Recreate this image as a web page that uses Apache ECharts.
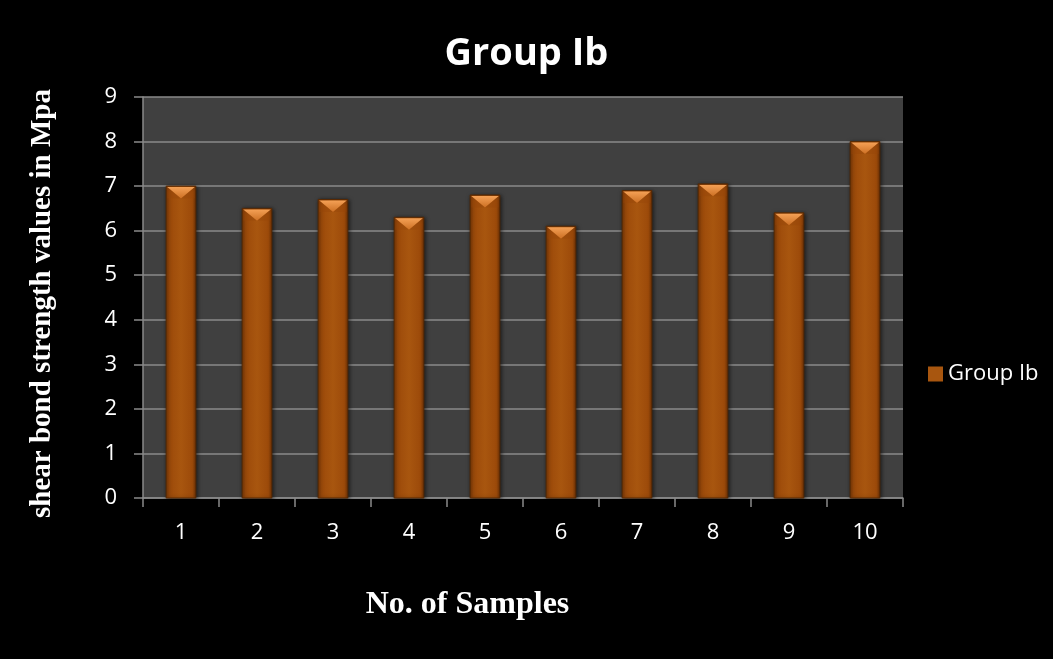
<!DOCTYPE html>
<html>
<head>
<meta charset="utf-8">
<script src="https://cdn.jsdelivr.net/npm/echarts@6/dist/echarts.min.js"></script>
<style>
  html, body { margin: 0; padding: 0; background: #000; }
  #chart { width: 1053px; height: 659px; }
</style>
</head>
<body>
<div id="chart"></div>
<script>
// Shear bond strength per sample, Group Ib
const samples = ['1', '2', '3', '4', '5', '6', '7', '8', '9', '10'];
const strength = [7.0, 6.5, 6.7, 6.3, 6.8, 6.1, 6.9, 7.05, 6.4, 8.0];
const yTicks = [0, 1, 2, 3, 4, 5, 6, 7, 8, 9];
const seriesName = 'Group Ib';

const chart = echarts.init(document.getElementById('chart'), null, { renderer: 'canvas' });

const bodyFill = new echarts.graphic.LinearGradient(0, 0, 1, 0, [
  { offset: 0, color: '#7a3805' },
  { offset: 0.12, color: '#9c4a0a' },
  { offset: 0.5, color: '#a8560f' },
  { offset: 0.88, color: '#9c4a0a' },
  { offset: 1, color: '#6e3204' }
]);
const capFill = new echarts.graphic.LinearGradient(0, 0, 0, 1, [
  { offset: 0, color: '#f4a055' },
  { offset: 1, color: '#cc7024' }
]);

// Bevelled column: body rectangle plus a lighter triangular facet on top
function renderBar(params, api) {
  const idx = api.value(0);
  const val = api.value(1);
  const top = api.coord([idx, val]);
  const base = api.coord([idx, 0]);
  const w = api.size([1, 0])[0] * 0.39;
  const x0 = top[0] - w / 2;
  const x1 = top[0] + w / 2;
  const capH = Math.min(w * 0.42, base[1] - top[1]);
  return {
    type: 'group',
    children: [
      { type: 'rect', shape: { x: x0, y: top[1], width: w, height: base[1] - top[1] },
        style: { fill: bodyFill, stroke: '#5a2a03', lineWidth: 1, shadowBlur: 4, shadowColor: 'rgba(0,0,0,0.6)', shadowOffsetX: 1, shadowOffsetY: 1 } },
      { type: 'polygon', shape: { points: [[x0 + 1, top[1] + 1], [x1 - 1, top[1] + 1], [top[0], top[1] + capH]] },
        style: { fill: capFill } },
      { type: 'polygon', shape: { points: [[x0 + 1, top[1] + 1], [top[0], top[1] + capH], [x0 + 1, top[1] + capH]] },
        style: { fill: 'rgba(150,70,10,0.35)' } },
      { type: 'polygon', shape: { points: [[x1 - 1, top[1] + 1], [top[0], top[1] + capH], [x1 - 1, top[1] + capH]] },
        style: { fill: 'rgba(150,70,10,0.35)' } }
    ]
  };
}

chart.setOption({
  backgroundColor: '#000',
  animation: false,
  title: {
    text: 'Group Ib',
    left: 'center',
    top: 30,
    textStyle: { color: '#fff', fontFamily: 'Open Sans', fontWeight: 'bold', fontSize: 38 }
  },
  legend: {
    data: [{ name: seriesName, icon: 'rect' }],
    orient: 'vertical',
    left: 923,
    top: 358,
    itemWidth: 15,
    itemHeight: 15,
    itemGap: 6,
    textStyle: { color: '#fff', fontFamily: 'Open Sans', fontSize: 22 }
  },
  grid: { left: 143, right: 150, top: 97, bottom: 161, show: true, backgroundColor: '#404040', borderWidth: 0 },
  xAxis: {
    type: 'category',
    data: samples,
    boundaryGap: true,
    name: 'No. of Samples',
    nameLocation: 'middle',
    nameGap: 91,
    nameTextStyle: { color: '#fff', fontFamily: 'Liberation Serif', fontWeight: 'bold', fontSize: 32, padding: [0, 111, 0, 0] },
    axisLine: { lineStyle: { color: '#8a8a8a', width: 1.5 } },
    axisTick: { show: true, length: 9, lineStyle: { color: '#8a8a8a', width: 1.5 } },
    axisLabel: { color: '#fff', fontFamily: 'Open Sans', fontSize: 22, margin: 24 }
  },
  yAxis: {
    type: 'value',
    min: yTicks[0],
    max: yTicks[yTicks.length - 1],
    interval: 1,
    name: 'shear bond strength values in Mpa',
    nameLocation: 'middle',
    nameGap: 86,
    nameTextStyle: { color: '#fff', fontFamily: 'Liberation Serif', fontWeight: 'bold', fontSize: 29, padding: [0, 12, 0, 0] },
    axisLine: { show: true, lineStyle: { color: '#8a8a8a', width: 1.5 } },
    axisTick: { show: true, length: 9, lineStyle: { color: '#8a8a8a', width: 1.5 } },
    splitLine: { lineStyle: { color: '#8a8a8a', width: 1.5 } },
    axisLabel: { color: '#fff', fontFamily: 'Open Sans', fontSize: 22, margin: 26 }
  },
  series: [{
    name: seriesName,
    type: 'custom',
    renderItem: renderBar,
    itemStyle: { color: '#a8560f' },
    encode: { x: 0, y: 1 },
    data: strength.map((v, i) => [i, v])
  }]
});
</script>
</body>
</html>
